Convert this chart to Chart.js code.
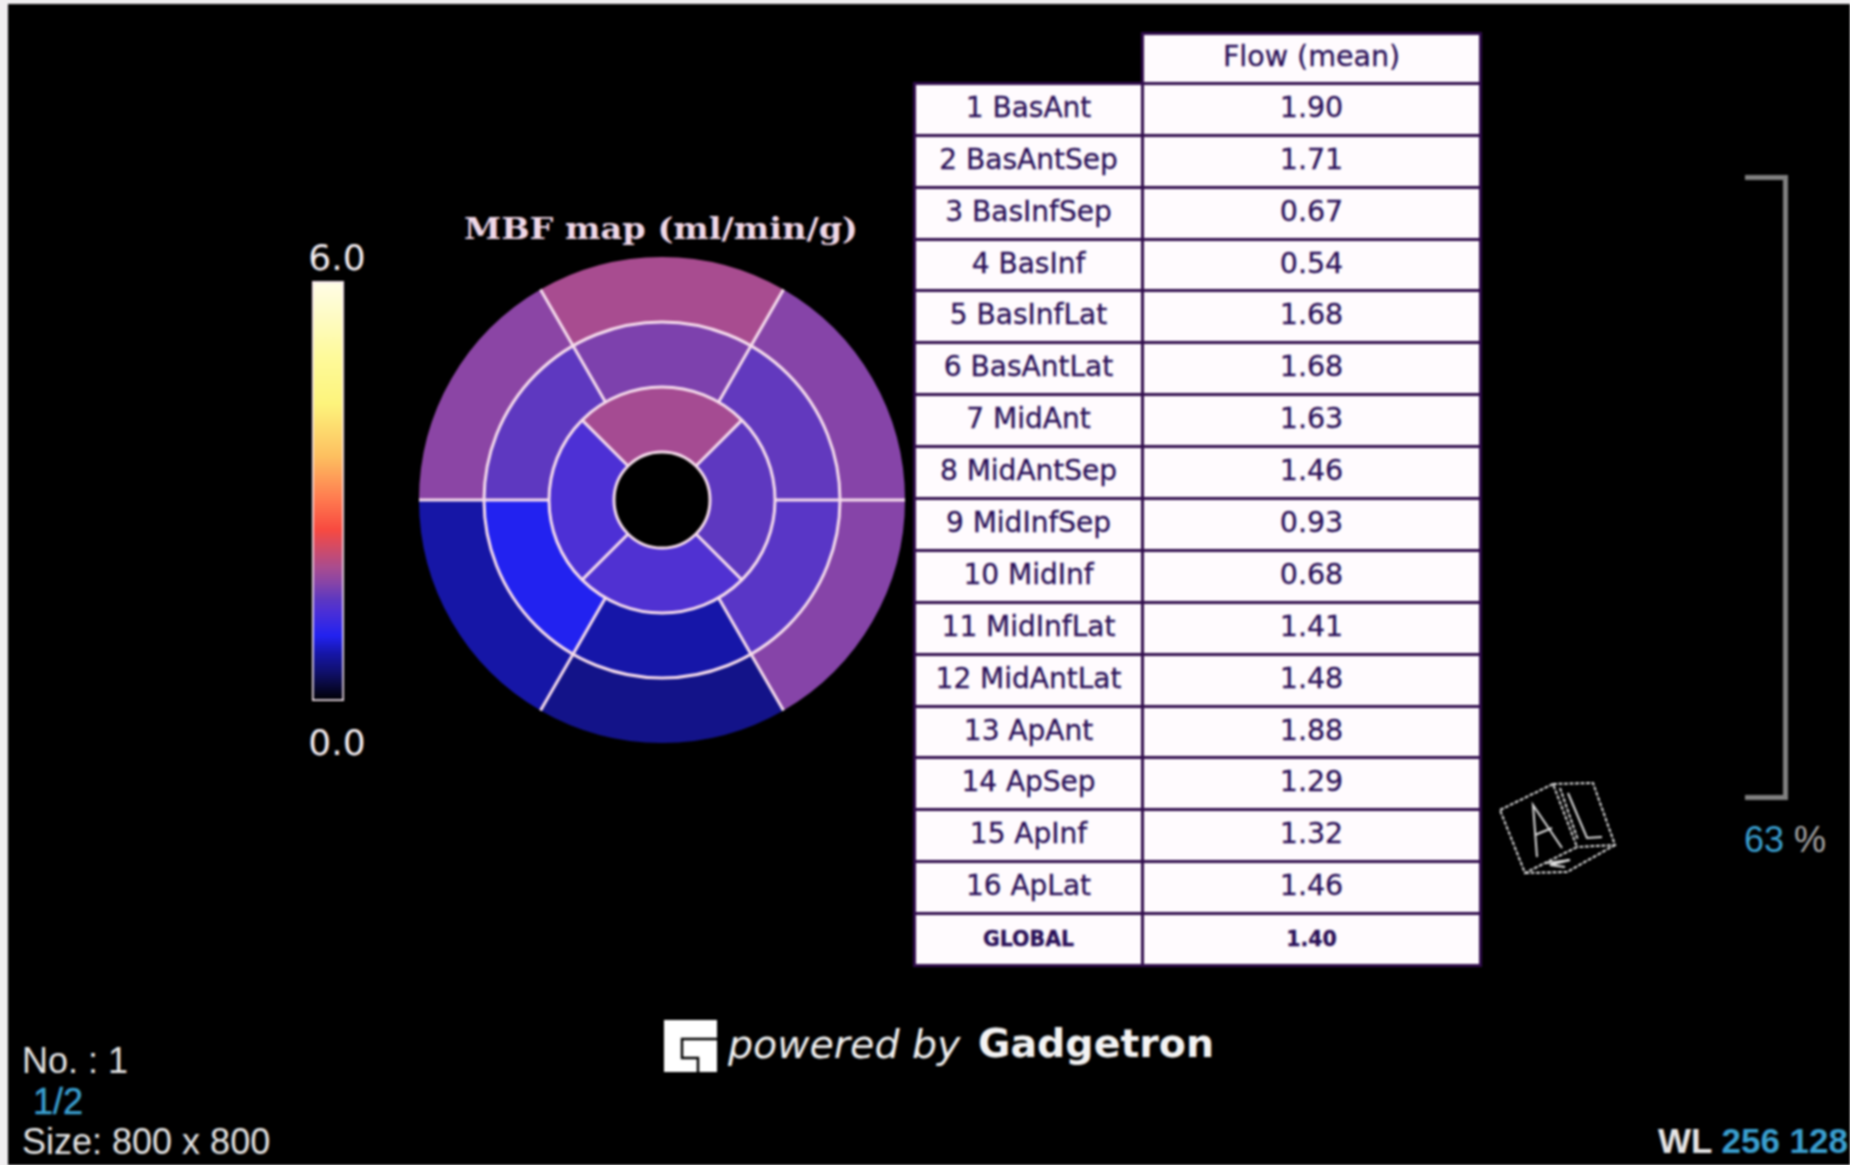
<!DOCTYPE html>
<html>
<head>
<meta charset="utf-8">
<title>MBF map</title>
<script src="https://cdn.jsdelivr.net/npm/chart.js@4"></script>
<style>
  html, body { margin: 0; padding: 0; background: #f0eef0; overflow: hidden; }
  #stage { position: absolute; left: 8px; top: 4px; width: 1842px; height: 1161px; background: #000; overflow: hidden; filter: blur(0.8px); }
  /* everything inside the stage is placed in page coordinates */
  #inner { position: absolute; left: -8px; top: -4px; width: 1850px; height: 1165px; }
  canvas, .txt, table, svg, .bracket { position: absolute; }
  .txt { white-space: nowrap; line-height: 1; }
  .bar-label { font: 36px "DejaVu Sans"; color: #f4eef2; transform: translate(-50%, -50%); }
  .info { font: 36px "Liberation Sans"; color: #e6e6e6; }
  .blue { color: #3a9fd0; }
  table { left: 913px; top: 32px; width: 569px; border-collapse: collapse; table-layout: fixed; font: 28.5px "DejaVu Sans"; color: #2a1058; -webkit-text-stroke: 0.3px #2a1058; }
  td { height: 44.9px; padding: 0 0 4px 0; border: 3px solid #300c4c; background: #fffbfe; text-align: center; }
  td.name { font-size: 28px; }
  tr.head td { height: 42.9px; }
  td.blank { background: #000; border-color: #000; border-bottom-color: #300c4c; border-right-color: #300c4c; }
  tr.global td { font: bold 20.5px "DejaVu Sans"; padding-bottom: 2px; height: 46.9px; }
  .bracket { left: 1745px; top: 175px; width: 38px; height: 615px; border: 5px solid #808080; border-left: none; }
</style>
</head>
<body>
<div id="stage"><div id="inner">
  <canvas id="colorbar" width="38" height="426" style="left:309px; top:278px"></canvas>
  <canvas id="bullseye" width="494" height="494" style="left:415px; top:253px"></canvas>

  <div class="txt" style="left:661px; top:228px; transform:translate(-50%,-50%) scaleX(1.1); font:bold 30.5px 'DejaVu Serif'; color:#f0d8e8">MBF map (ml/min/g)</div>
  <div class="txt bar-label" id="tickMax" style="left:337px; top:257px"></div>
  <div class="txt bar-label" id="tickMin" style="left:337px; top:742px"></div>

  <table id="flowTable"></table>

  <div class="bracket"></div>
  <div class="txt info" style="left:1744px; top:819px"><span class="blue">63</span> <span style="color:#a8a8a8">%</span></div>

  <svg style="left:1480px; top:760px" width="150" height="130" fill="none" stroke="#dcdcdc" stroke-width="2">
    <g stroke-dasharray="4 1.5">
      <polygon points="20,50 73,24 97,87 45,113"/>
      <polyline points="73,24 113,23 135,85 97,87"/>
      <polyline points="45,113 87,112 135,85"/>
      <polyline points="80,28 98,80"/>
    </g>
    <polyline points="57,97 53,45 82,88"/>
    <line x1="55" y1="75" x2="72" y2="68"/>
    <polyline points="88,33 107,78 122,77"/>
    <polyline points="66,103 90,100 70,105 85,107"/>
  </svg>

  <svg style="left:664px; top:1019px" width="54" height="54">
    <path fill="#fff" d="M0 1H53V53H0Z"/>
    <path fill="none" stroke="#000" stroke-width="2.5" d="M53 20H18V39H34V53"/>
  </svg>
  <div class="txt" style="left:728px; top:1021px; font:italic 39.5px 'DejaVu Sans'; color:#f0f0f0">powered by</div>
  <div class="txt" style="left:978px; top:1020px; font:bold 39.5px 'DejaVu Sans'; color:#f4f4f4">Gadgetron</div>

  <div class="txt info" style="left:22px; top:1040px">No. : 1</div>
  <div class="txt info blue" style="left:33px; top:1081px; -webkit-text-stroke:0.5px #3a9fd0">1/2</div>
  <div class="txt info" style="left:22px; top:1121px">Size: 800 x 800</div>
  <div class="txt info" style="right:2px; top:1121px; font-weight:bold; font-size:35px">WL <span class="blue">256 128</span></div>
</div></div>

<script>
// segment names, 1-16 AHA numbering
const segmentNames = [
  "1 BasAnt", "2 BasAntSep", "3 BasInfSep", "4 BasInf", "5 BasInfLat", "6 BasAntLat",
  "7 MidAnt", "8 MidAntSep", "9 MidInfSep", "10 MidInf", "11 MidInfLat", "12 MidAntLat",
  "13 ApAnt", "14 ApSep", "15 ApInf", "16 ApLat"
];
const flowValues = [
  1.90, 1.71, 0.67, 0.54, 1.68, 1.68,
  1.63, 1.46, 0.93, 0.68, 1.41, 1.48,
  1.88, 1.29, 1.32, 1.46
];
const globalFlow = 1.40;
const flowHeader = "Flow (mean)";
const colorbarRange = [0.0, 6.0];

// rings go clockwise from the top, segment numbers run the other way
const basalRing = [0, 5, 4, 3, 2, 1];
const midRing = [6, 11, 10, 9, 8, 7];
const apicalRing = [12, 15, 14, 13];

// colormap
const cmapValues = [0, 0.42, 0.68, 0.93, 1.3, 1.46, 1.68, 1.9, 2.45, 2.9, 3.5, 4.25, 4.9, 6.0];
const cmapColors = [
  "#000000", "#10106e", "#1616a8", "#2222f0", "#4e30d4", "#5e38c0", "#8644a8", "#a84c90",
  "#f84a40", "#ff7c50", "#fdc060", "#fdf47c", "#fefa9a", "#fffde8"
];

function hexToRgb(hex) {
  return [1, 3, 5].map(i => parseInt(hex.slice(i, i + 2), 16));
}

function flowColor(v) {
  let i = 0;
  while (i < cmapValues.length - 2 && v > cmapValues[i + 1]) i++;
  const t = Math.min(1, Math.max(0, (v - cmapValues[i]) / (cmapValues[i + 1] - cmapValues[i])));
  const a = hexToRgb(cmapColors[i]), b = hexToRgb(cmapColors[i + 1]);
  const c = a.map((x, k) => Math.round(x + (b[k] - x) * t));
  return `rgb(${c[0]}, ${c[1]}, ${c[2]})`;
}

function ringDataset(ring, rotation) {
  return {
    data: ring.map(() => 1),
    backgroundColor: ring.map(i => flowColor(flowValues[i])),
    rotation: rotation,
    borderWidth: 0
  };
}

// segment outlines, taken from the arc elements
const ringLines = {
  id: "ringLines",
  afterDatasetsDraw(chart) {
    const ctx = chart.ctx;
    ctx.save();
    ctx.strokeStyle = "#f6dcec";
    ctx.lineWidth = 3;
    chart.data.datasets.forEach((ds, d) => {
      chart.getDatasetMeta(d).data.forEach((arc, k) => {
        const { x, y, startAngle, innerRadius, outerRadius } = arc;
        ctx.beginPath();
        ctx.moveTo(x + Math.cos(startAngle) * innerRadius, y + Math.sin(startAngle) * innerRadius);
        ctx.lineTo(x + Math.cos(startAngle) * outerRadius, y + Math.sin(startAngle) * outerRadius);
        ctx.stroke();
        if (k === 0) {
          ctx.beginPath();
          ctx.arc(x, y, innerRadius, 0, Math.PI * 2);
          ctx.stroke();
        }
      });
    });
    ctx.restore();
  }
};

new Chart(document.getElementById("bullseye"), {
  type: "doughnut",
  data: {
    labels: segmentNames,
    datasets: [
      ringDataset(basalRing, -30),
      ringDataset(midRing, -30),
      ringDataset(apicalRing, -45)
    ]
  },
  options: {
    responsive: false,
    animation: false,
    cutout: "19.75%",
    layout: { padding: 4 },
    plugins: { legend: { display: false }, tooltip: { enabled: false } }
  },
  plugins: [ringLines]
});

new Chart(document.getElementById("colorbar"), {
  type: "bar",
  data: {
    labels: ["MBF"],
    datasets: [{
      data: [colorbarRange],
      barPercentage: 1,
      categoryPercentage: 1,
      borderWidth: 2,
      borderColor: "#f2e2ec",
      borderSkipped: false,
      backgroundColor(c) {
        const area = c.chart.chartArea;
        if (!area) return "#000";
        const g = c.chart.ctx.createLinearGradient(0, area.bottom, 0, area.top);
        cmapValues.forEach((v, i) => g.addColorStop(v / colorbarRange[1], cmapColors[i]));
        return g;
      }
    }]
  },
  options: {
    responsive: false,
    animation: false,
    layout: { padding: 3 },
    scales: {
      x: { display: false },
      y: { display: false, min: colorbarRange[0], max: colorbarRange[1] }
    },
    plugins: { legend: { display: false }, tooltip: { enabled: false } }
  }
});

document.getElementById("tickMax").textContent = colorbarRange[1].toFixed(1);
document.getElementById("tickMin").textContent = colorbarRange[0].toFixed(1);

// table next to the plot
const rows = [`<colgroup><col style="width:228px"><col></colgroup>`,
  `<tr class="head"><td class="blank"></td><td>${flowHeader}</td></tr>`];
segmentNames.forEach((name, i) => {
  rows.push(`<tr><td class="name">${name}</td><td>${flowValues[i].toFixed(2)}</td></tr>`);
});
rows.push(`<tr class="global"><td>GLOBAL</td><td>${globalFlow.toFixed(2)}</td></tr>`);
document.getElementById("flowTable").innerHTML = rows.join("");
</script>
</body>
</html>
